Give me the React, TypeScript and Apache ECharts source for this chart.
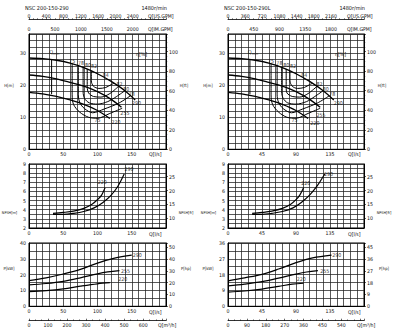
import React, { useEffect, useRef } from "react";
import * as echarts from "echarts";

const FONT = '"DejaVu Sans Condensed", "DejaVu Sans", "Liberation Sans Narrow", sans-serif';
const INK = "#111";

// ---------------- Left sheet: NSC 200-150-290 (Q in l/s, H in m, P in kW) ----------------
const L_TITLE = "NSC 200-150-290";
const L_HQ_290 = [[0, 28.5], [20, 28.3], [40, 27.8], [60, 26.9], [80, 25.5], [100, 23.6], [120, 21.2], [140, 18.3], [155, 15.4]];
const L_HQ_255 = [[0, 23.2], [20, 22.8], [40, 22.0], [60, 20.9], [80, 19.7], [100, 18.0], [120, 15.6], [135, 13.1]];
const L_HQ_220 = [[0, 17.8], [20, 17.3], [40, 16.5], [60, 15.4], [80, 14.0], [100, 12.1], [118, 9.6]];
const L_QMIN = [[33, 28.0], [33, 17.2]];
const L_EFF_75 = [[63, 26.8], [63, 17], [65, 14], [74, 11.6], [87, 10.0], [100, 9.7], [118, 11.2], [136, 12.8]];
const L_EFF_78 = [[72, 26.1], [72, 17], [74, 14.6], [81, 12.7], [93, 11.4], [110, 12.6], [131, 14.4], [148, 16.7]];
const L_EFF_80 = [[79, 25.6], [79, 18], [81, 15.9], [88, 14.5], [100, 14.1], [115, 14.9], [128, 16.5], [140, 18.3]];
const L_EFF_82 = [[85, 25.1], [85, 19.5], [87, 17.6], [94, 16.5], [105, 16.3], [118, 17.4], [131, 19.7]];
const L_EFF_84 = [[91, 24.5], [91, 21.4], [94, 19.7], [102, 19.0], [112, 19.3], [120, 20.2], [124, 20.6]];
const L_NPSH_220 = [[35, 3.6], [50, 3.7], [65, 3.85], [80, 4.15], [92, 4.6], [100, 5.1], [106, 5.6], [111, 6.4]];
const L_NPSH_290 = [[35, 3.5], [50, 3.5], [65, 3.6], [80, 3.8], [95, 4.2], [108, 4.8], [120, 5.6], [130, 6.6], [139, 7.9]];
const L_P_290 = [[0, 16.2], [25, 18.0], [50, 20.4], [75, 23.3], [100, 27.3], [125, 30.4], [150, 32.3]];
const L_P_255 = [[0, 13.5], [25, 14.4], [50, 15.8], [75, 18.0], [100, 20.5], [115, 21.7], [132, 22.6]];
const L_P_220 = [[0, 9.3], [25, 9.9], [50, 11.0], [75, 12.7], [100, 14.2], [118, 14.9]];
const L_HQ_TAGS = [[37, 30.3, "Qmin"], [63, 27.7, "75"], [76, 26.8, "78"], [86, 26.4, "80"], [95, 26.0, "82"], [112, 23.2, "84"],
  [132, 20.3, "82"], [142, 18.9, "80"], [150, 17.4, "78"], [157, 14.6, "290"], [140, 11.2, "255"], [127, 8.6, "220"], [100, 9.0, "75"]];
const L_NPSH_TAGS = [[107, 7.0, "220"], [146, 8.4, "290"]];
const L_P_TAGS = [[158, 32.5, "290"], [141, 22.6, "255"], [137, 17.3, "220"]];

// ---------------- Right sheet: NSC 200-150-290L ----------------
const R_TITLE = "NSC 200-150-290L";
const R_HQ_290 = [[0, 28.5], [18, 28.3], [36, 27.8], [54, 26.9], [72, 25.5], [90, 23.6], [108, 21.2], [126, 18.3], [140, 15.4]];
const R_HQ_255 = [[0, 23.2], [18, 22.8], [36, 22.0], [54, 20.9], [72, 19.7], [90, 18.0], [108, 15.6], [122, 13.1]];
const R_HQ_220 = [[0, 17.8], [18, 17.3], [36, 16.5], [54, 15.4], [72, 14.0], [90, 12.1], [106, 9.6]];
const R_QMIN = [[29, 28.0], [29, 17.2]];
const R_EFF_75 = [[57, 26.8], [57, 17], [59, 14], [67, 11.6], [78, 10.0], [90, 9.7], [106, 11.2], [122, 12.8]];
const R_EFF_78 = [[65, 26.1], [65, 17], [67, 14.6], [73, 12.7], [84, 11.4], [99, 12.6], [118, 14.4], [134, 16.7]];
const R_EFF_80 = [[71, 25.6], [71, 18], [73, 15.9], [79, 14.5], [90, 14.1], [104, 14.9], [115, 16.5], [126, 18.3]];
const R_EFF_82 = [[77, 25.1], [77, 19.5], [78, 17.6], [85, 16.5], [95, 16.3], [106, 17.4], [118, 19.7]];
const R_EFF_84 = [[82, 24.5], [82, 21.4], [85, 19.7], [92, 19.0], [101, 19.3], [108, 20.2], [112, 20.6]];
const R_NPSH_220 = [[32, 3.6], [45, 3.7], [58, 3.85], [72, 4.15], [83, 4.6], [90, 5.1], [95, 5.6], [100, 6.4]];
const R_NPSH_290 = [[32, 3.5], [45, 3.5], [58, 3.6], [72, 3.8], [86, 4.2], [97, 4.8], [108, 5.6], [118, 6.6], [128, 7.9]];
const R_P_290 = [[0, 14.5], [22, 16.2], [45, 18.2], [67, 21.2], [90, 24.8], [112, 27.5], [137, 29.1]];
const R_P_255 = [[0, 11.6], [22, 12.6], [45, 14.0], [67, 16.0], [90, 18.3], [104, 19.5], [119, 20.3]];
const R_P_220 = [[0, 8.1], [22, 8.7], [45, 9.8], [67, 11.3], [85, 12.6], [100, 13.1]];
const R_HQ_TAGS = [[33, 30.3, "Qmin"], [57, 27.7, "75"], [68, 26.8, "78"], [77, 26.4, "80"], [86, 26.0, "82"], [101, 23.2, "84"],
  [121, 20.3, "82"], [129.5, 18.8, "80"], [138, 17.2, "78"], [146, 14.6, "290"], [123, 10.6, "255"], [115, 8.2, "220"], [88, 9.1, "75"]];
const R_NPSH_TAGS = [[103, 6.9, "220"], [133, 7.9, "290"]];
const R_P_TAGS = [[144, 29.2, "290"], [128, 19.9, "255"], [97, 15.3, "220"]];

const SPEED = "1480r/min";
const M_TO_FT = 3.28084;
const KW_TO_HP = 1.34102;
const LPS_PER_USGPM = 0.0630902;
const LPS_PER_IMGPM = 0.0757682;
const NPSH_FT_TICKS = [10, 15, 20, 25];

const mult = (v: number, s: number) => Math.abs(v / s - Math.round(v / s)) < 1e-6;

const SHEETS = [
  {
    title: L_TITLE, gl: 29, gw: 137, qMax: 200, qStep: 10, qLab: 50,
    usStep: 400, usLast: 2400, imStep: 500, imLast: 2000, m3Step: 100, m3Last: 600,
    pMax: 40, pStep: 5, pLab: 10, hpStep: 10, hpLast: 50,
    hq: [L_HQ_290, L_HQ_255, L_HQ_220], eff: [L_EFF_75, L_EFF_78, L_EFF_80, L_EFF_82, L_EFF_84], qmin: L_QMIN,
    npsh: [L_NPSH_220, L_NPSH_290], power: [L_P_290, L_P_255, L_P_220],
    hqTags: L_HQ_TAGS, npshTags: L_NPSH_TAGS, pTags: L_P_TAGS,
  },
  {
    title: R_TITLE, gl: 228, gw: 136, qMax: 180, qStep: 9, qLab: 45,
    usStep: 360, usLast: 2160, imStep: 450, imLast: 1800, m3Step: 90, m3Last: 540,
    pMax: 36, pStep: 4.5, pLab: 9, hpStep: 9, hpLast: 45,
    hq: [R_HQ_290, R_HQ_255, R_HQ_220], eff: [R_EFF_75, R_EFF_78, R_EFF_80, R_EFF_82, R_EFF_84], qmin: R_QMIN,
    npsh: [R_NPSH_220, R_NPSH_290], power: [R_P_290, R_P_255, R_P_220],
    hqTags: R_HQ_TAGS, npshTags: R_NPSH_TAGS, pTags: R_P_TAGS,
  },
];

const TOPS = [34, 164, 243];
const HEIGHTS = [115.3, 64, 63.3];
const FS = 5.2;

const labelBase = { fontSize: FS, color: INK, fontFamily: FONT, interval: 0, margin: 2 };
const gridLine = { show: true, lineStyle: { color: "#222", width: 0.75 } };
const axisLineBlack = { show: true, onZero: false, lineStyle: { color: "#000", width: 1 } };

function buildOption() {
  const grid: any[] = [];
  const xAxis: any[] = [];
  const yAxis: any[] = [];
  const series: any[] = [];
  const graphic: any[] = [];

  const txt = (x: number, y: number, text: string, align = "left", size = FS) => ({
    type: "text", x, y, silent: true,
    style: { text, fill: INK, fontSize: size, fontFamily: FONT, align, verticalAlign: "middle" },
  });

  for (const s of SHEETS) {
    const gi = grid.length;
    for (let k = 0; k < 3; k++) {
      grid.push({ left: s.gl, top: TOPS[k], width: s.gw, height: HEIGHTS[k], show: true, borderColor: "#000", borderWidth: 1 });
    }
    const qAxis = (g: number) => ({
      type: "value", gridIndex: g, position: "bottom", min: 0, max: s.qMax, interval: s.qStep,
      axisLine: axisLineBlack, axisTick: { show: false }, splitLine: gridLine,
      axisLabel: { ...labelBase, margin: 2, formatter: (v: number) => (mult(v, s.qLab) && v < s.qMax - 1e-6 ? String(v) : "") },
    });
    const xi = xAxis.length;
    xAxis.push(qAxis(gi));
    xAxis.push({
      type: "value", gridIndex: gi, position: "top", offset: 14.5, min: 0, max: s.qMax / LPS_PER_USGPM, interval: s.usStep,
      axisLine: { show: true, onZero: false, lineStyle: { color: "#000", width: 0.8 } },
      axisTick: { show: true, length: 2, lineStyle: { color: "#000", width: 0.6 } },
      minorTick: { show: true, splitNumber: 4, length: 1.3, lineStyle: { color: "#000", width: 0.5 } },
      splitLine: { show: false },
      axisLabel: { ...labelBase, margin: 1.5, formatter: (v: number) => (mult(v, s.usStep) && v <= s.usLast + 1e-6 ? String(v) : "") },
    });
    xAxis.push({
      type: "value", gridIndex: gi, position: "top", offset: 0, min: 0, max: s.qMax / LPS_PER_IMGPM, interval: s.imStep,
      axisLine: { show: false, onZero: false }, axisTick: { show: false }, splitLine: { show: false },
      axisLabel: { ...labelBase, margin: 2.5, formatter: (v: number) => (mult(v, s.imStep) && v <= s.imLast + 1e-6 ? String(v) : "") },
    });
    xAxis.push(qAxis(gi + 1));
    xAxis.push(qAxis(gi + 2));
    xAxis.push({
      type: "value", gridIndex: gi + 2, position: "bottom", offset: 14.4, min: 0, max: s.qMax * 3.6, interval: s.m3Step,
      axisLine: { show: true, onZero: false, lineStyle: { color: "#000", width: 0.8 } },
      axisTick: { show: true, inside: true, length: 2, lineStyle: { color: "#000", width: 0.6 } },
      minorTick: { show: true, splitNumber: 3, length: 1.3, lineStyle: { color: "#000", width: 0.5 } },
      splitLine: { show: false },
      axisLabel: { ...labelBase, margin: 1.5, formatter: (v: number) => (mult(v, s.m3Step) && v <= s.m3Last + 1e-6 ? String(v) : "") },
    });

    const yi = yAxis.length;
    yAxis.push({
      type: "value", gridIndex: gi, position: "left", min: 0, max: 36, interval: 2,
      axisLine: axisLineBlack, axisTick: { show: false }, splitLine: gridLine,
      axisLabel: { ...labelBase, margin: 3, formatter: (v: number) => (mult(v, 10) ? String(v) : "") },
    });
    yAxis.push({
      type: "value", gridIndex: gi, position: "right", min: 0, max: 36 * M_TO_FT, interval: 20,
      axisLine: axisLineBlack,
      axisTick: { show: true, length: 2, lineStyle: { color: "#000", width: 0.6 } },
      minorTick: { show: true, splitNumber: 4, length: 1.3, lineStyle: { color: "#000", width: 0.5 } },
      splitLine: { show: false },
      axisLabel: { ...labelBase, margin: 3, formatter: (v: number) => (mult(v, 20) && v <= 100 ? String(v) : "") },
    });
    yAxis.push({
      type: "value", gridIndex: gi + 1, position: "left", min: 2, max: 9, interval: 0.5,
      axisLine: axisLineBlack, axisTick: { show: false }, splitLine: gridLine,
      axisLabel: { ...labelBase, margin: 3, formatter: (v: number) => (mult(v, 1) ? String(v) : "") },
    });
    yAxis.push({
      type: "value", gridIndex: gi + 1, position: "right", min: 2 * M_TO_FT, max: 9 * M_TO_FT,
      axisLine: axisLineBlack,
      axisTick: { show: true, length: 2, customValues: NPSH_FT_TICKS, lineStyle: { color: "#000", width: 0.6 } },
      splitLine: { show: false },
      axisLabel: { ...labelBase, margin: 3, customValues: NPSH_FT_TICKS },
    });
    yAxis.push({
      type: "value", gridIndex: gi + 2, position: "left", min: 0, max: s.pMax, interval: s.pStep,
      axisLine: axisLineBlack, axisTick: { show: false }, splitLine: gridLine,
      axisLabel: { ...labelBase, margin: 3, formatter: (v: number) => (mult(v, s.pLab) ? String(v) : "") },
    });
    yAxis.push({
      type: "value", gridIndex: gi + 2, position: "right", min: 0, max: s.pMax * KW_TO_HP, interval: s.hpStep,
      axisLine: axisLineBlack,
      axisTick: { show: true, length: 2, lineStyle: { color: "#000", width: 0.6 } },
      splitLine: { show: false },
      axisLabel: { ...labelBase, margin: 3, formatter: (v: number) => (mult(v, s.hpStep) && v <= s.hpLast + 1e-6 ? String(v) : "") },
    });

    const line = (data: number[][], xa: number, ya: number, w: number, smooth: number | boolean = 0.35) => ({
      type: "line", data, xAxisIndex: xa, yAxisIndex: ya, showSymbol: false, symbol: "none", smooth,
      lineStyle: { color: "#000", width: w }, silent: true,
    });
    const tags = (items: any[], xa: number, ya: number) => ({
      type: "scatter", xAxisIndex: xa, yAxisIndex: ya, symbolSize: 1, silent: true,
      itemStyle: { color: "rgba(0,0,0,0)" },
      data: items.map(([x, y, t]) => ({ value: [x, y], name: t })),
      label: {
        show: true, position: "inside", color: "#000", fontSize: 5.3, fontFamily: FONT,
        formatter: (p: any) => (p.name === "Qmin" ? "{q|Q}{s|min}" : p.name),
        rich: { q: { fontSize: 5.5, fontFamily: FONT, color: "#000" }, s: { fontSize: 3.8, fontFamily: FONT, color: "#000", padding: [3, 0, 0, 0] } },
      },
    });

    for (const d of s.hq) series.push(line(d, xi, yi, 1.3));
    for (const d of s.eff) series.push(line(d, xi, yi, 1.0, 0.3));
    series.push(line(s.qmin, xi, yi, 1.0, false));
    series.push(tags(s.hqTags, xi, yi));
    for (const d of s.npsh) series.push(line(d, xi + 3, yi + 2, 1.2));
    series.push(tags(s.npshTags, xi + 3, yi + 2));
    for (const d of s.power) series.push(line(d, xi + 4, yi + 4, 1.2));
    series.push(tags(s.pTags, xi + 4, yi + 4));

    const gl = s.gl;
    const gr = s.gl + s.gw;
    graphic.push(txt(gl - 4, 8, s.title, "left", 5.5));
    graphic.push(txt(gr + 1, 8, SPEED, "right", 5.5));
    graphic.push(txt(gl + 119, 16, "Q[US.GPM]", "left"));
    graphic.push(txt(gl + 119, 29, "Q[IM.GPM]", "left"));
    graphic.push(txt(gl + 107, 54, "η[%]", "left"));
    graphic.push(txt(gl + 120, 153.5, "Q[l/s]", "left"));
    graphic.push(txt(gl + 120, 233.5, "Q[l/s]", "left"));
    graphic.push(txt(gl + 120, 311.5, "Q[l/s]", "left"));
    graphic.push(txt(gl + 129, 324.5, "Q[m³/h]", "left"));
    graphic.push(txt(gl - 20, 85, "H[m]", "center", 4.2));
    graphic.push(txt(gr + 18, 85, "H[ft]", "center", 4.2));
    graphic.push(txt(gl - 19.5, 212, "NPSH[m]", "center", 3.8));
    graphic.push(txt(gr + 20, 212, "NPSH[ft]", "center", 3.8));
    graphic.push(txt(gl - 20, 268, "P[kW]", "center", 4.2));
    graphic.push(txt(gr + 20, 268, "P[hp]", "center", 4.2));
  }

  return {
    animation: false,
    backgroundColor: "#fff",
    textStyle: { fontFamily: FONT },
    grid, xAxis, yAxis, series, graphic,
  };
}

export default function App() {
  const ref = useRef<HTMLDivElement>(null);
  useEffect(() => {
    if (!ref.current) return;
    const chart = echarts.init(ref.current, null, { renderer: "svg" });
    chart.setOption(buildOption() as any);
    return () => chart.dispose();
  }, []);
  return <div ref={ref} style={{ position: "fixed", left: 0, top: 0, width: 396, height: 328, background: "#fff" }} />;
}
